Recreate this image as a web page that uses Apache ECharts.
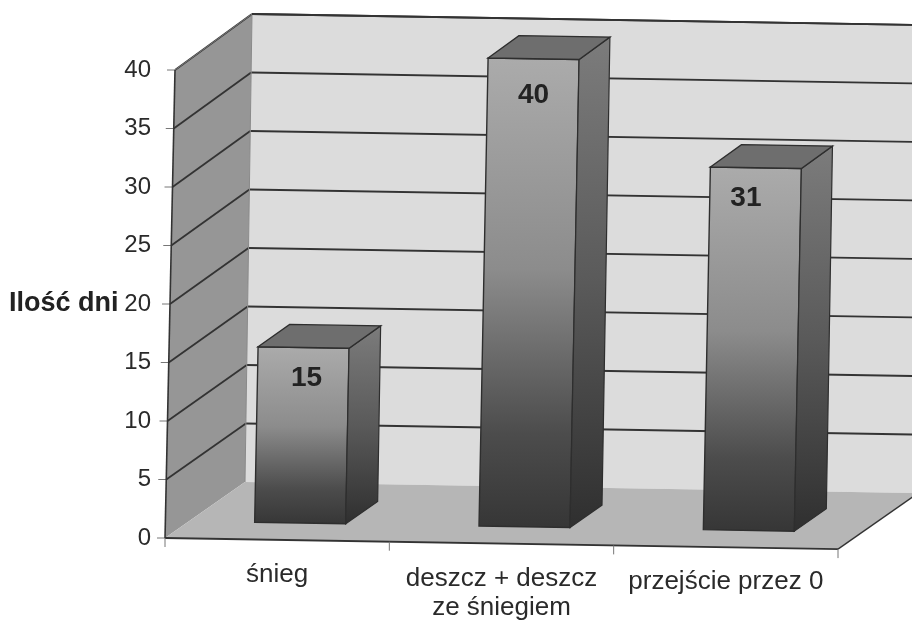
<!DOCTYPE html>
<html>
<head>
<meta charset="utf-8">
<style>html,body{margin:0;padding:0;background:#fff}#c{width:912px;height:623px}</style>
<script src="https://cdn.jsdelivr.net/npm/echarts@6/dist/echarts.min.js"></script>
</head>
<body>
<div id="c"></div>
<script>
const categories = ['śnieg', 'deszcz + deszcz\nze śniegiem', 'przejście przez 0'];
const values = [15, 40, 31];
const yTicks = [0, 5, 10, 15, 20, 25, 30, 35, 40];
const yAxisName = 'Ilość dni';

const chart = echarts.init(document.getElementById('c'));

// oblique projection of the library's cartesian coordinates
function projector(api) {
  const band = api.size([1, 0])[0];
  return function (u, v, d) {
    const c = api.coord([0, v]);
    const left = c[0] - band / 2;
    const tilt = 0.25 - 0.075 * d;
    return [
      left + u * band + v * tilt + 80 * d,
      c[1] + 0.0165 * u * band - 56 * d
    ];
  };
}
function poly(points, fill, stroke, lw) {
  return { type: 'polygon', shape: { points: points },
    style: { fill: fill, stroke: stroke || null, lineWidth: lw || 0 } };
}
function line(a, b, color, w) {
  return { type: 'line', shape: { x1: a[0], y1: a[1], x2: b[0], y2: b[1] },
    style: { stroke: color, lineWidth: w, fill: null } };
}
function vgrad(stops) {
  return { type: 'linear', x: 0, y: 0, x2: 0, y2: 1,
    colorStops: stops.map(s => ({ offset: s[0], color: s[1] })) };
}

function renderRoom(params, api) {
  const P = projector(api);
  const top = yTicks[yTicks.length - 1];
  const ink = '#333333';
  const kids = [
    poly([P(0, 0, 1), P(0, top, 1), P(3.2, top, 1), P(3.2, 0, 1)], '#dcdcdc'),
    poly([P(0, 0, 0), P(0, top, 0), P(0, top, 1), P(0, 0, 1)], '#969696'),
    poly([P(0, 0, 0), P(0, 0, 1), P(3, 0, 1), P(3, 0, 0)], '#b6b6b6')
  ];
  yTicks.forEach(v => {
    if (v > 0) {
      kids.push(line(P(0, v, 0), P(0, v, 1), ink, 1.8));
      kids.push(line(P(0, v, 1), P(3.2, v, 1), ink, 1.8));
    }
    const a = P(0, v, 0);
    kids.push(line([a[0] - 8, a[1]], a, '#777', 1));
  });
  kids.push(line(P(0, 0, 1), P(0, top, 1), '#8a8a8a', 1));
  kids.push(line(P(0, top, 0), P(0, top, 1), '#777', 1));
  kids.push(line(P(0, top, 1), P(3.2, top, 1), ink, 1.8));
  kids.push(line(P(0, 0, 0), P(0, top, 0), ink, 1.6));
  kids.push(line(P(0, 0, 0), P(3, 0, 0), ink, 1.8));
  kids.push(line(P(3, 0, 0), P(3, 0, 1), ink, 1.4));
  [0, 1, 2, 3].forEach(u => {
    const a = P(u, 0, 0);
    kids.push(line(a, [a[0], a[1] + 9], '#777', 1));
  });
  return { type: 'group', children: kids };
}

function renderBar(params, api) {
  const P = projector(api);
  const i = api.value(0), v = api.value(1);
  const band = api.size([1, 0])[0];
  const halfW = 91 / band / 2;
  const centre = i + 0.5 - 1 / band;
  const u0 = centre - halfW, u1 = centre + halfW;
  const d0 = 0.3, d1 = 0.7;
  const edge = '#2e2e2e';
  const frontStops = [[0, '#ababab'], [0.45, '#8c8c8c'], [0.8, '#4c4c4c'], [1, '#363636']];
  const sideStops = [[0, '#7c7c7c'], [0.5, '#5a5a5a'], [1, '#2f2f2f']];
  const labelAt = P(centre, v, d0);
  // small hand placement of each value label on its bar
  const dx = [3, 0, -10][i], dy = [0, 6, 0][i];
  return { type: 'group', children: [
    poly([P(u0, 0, d0), P(u0, v, d0), P(u1, v, d0), P(u1, 0, d0)], vgrad(frontStops), edge, 1.4),
    poly([P(u1, 0, d0), P(u1, v, d0), P(u1, v, d1), P(u1, 0, d1)], vgrad(sideStops), edge, 1.2),
    poly([P(u0, v, d0), P(u1, v, d0), P(u1, v, d1), P(u0, v, d1)], '#6e6e6e', edge, 1.4),
    { type: 'text', x: labelAt[0] + dx, y: labelAt[1] + 31 + dy,
      style: { text: String(v), fill: '#222', font: 'bold 28px "Liberation Sans", Arial, sans-serif',
        textAlign: 'center', textVerticalAlign: 'middle' } }
  ]};
}

chart.setOption({
  animation: false,
  backgroundColor: '#ffffff',
  textStyle: { fontFamily: '"Liberation Sans", Arial, sans-serif' },
  grid: { left: 165, top: 70, width: 673, height: 468, containLabel: false, outerBoundsMode: 'none' },
  xAxis: {
    type: 'category',
    // labels follow the tilt of the floor edge
    data: categories.map((c, i) => ({ value: c, textStyle: { padding: [Math.round(i * 3.7), 0, 0, 0] } })),
    axisLine: { show: false }, axisTick: { show: false }, splitLine: { show: false },
    axisLabel: { interval: 0, color: '#2a2a2a', fontSize: 26, lineHeight: 29, margin: 22, hideOverlap: false }
  },
  yAxis: {
    type: 'value', min: 0, max: 40, interval: 5,
    name: yAxisName, nameLocation: 'middle', nameRotate: 0, nameGap: 45,
    nameTextStyle: { fontWeight: 'bold', fontSize: 27, color: '#222' },
    axisLine: { show: false }, axisTick: { show: false }, splitLine: { show: false },
    axisLabel: { color: '#2a2a2a', fontSize: 24, margin: 14 }
  },
  series: [
    { type: 'custom', name: 'room', silent: true, clip: false, z: 1,
      renderItem: renderRoom, data: [[0, 0]], encode: { x: 0, y: 1 } },
    { type: 'custom', name: 'Ilość dni', silent: true, clip: false, z: 2,
      renderItem: renderBar, data: values.map((v, i) => [i, v]), encode: { x: 0, y: 1 } }
  ]
});
</script>
</body>
</html>
